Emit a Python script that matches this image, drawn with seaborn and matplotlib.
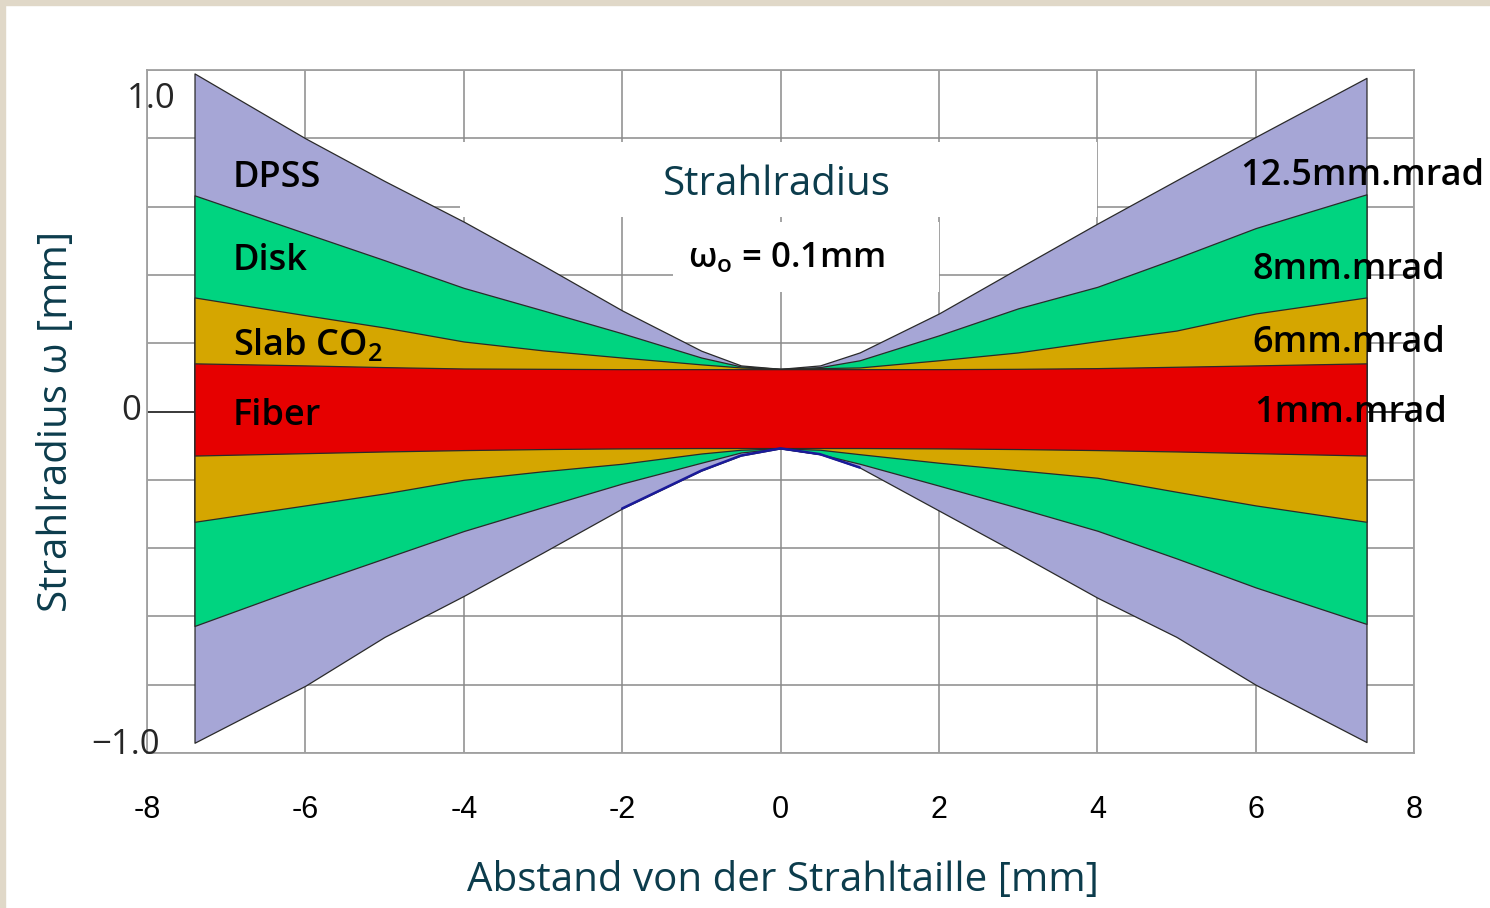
import numpy as np
import pandas as pd
import matplotlib
matplotlib.use("Agg")
import matplotlib.pyplot as plt
from matplotlib.patches import Rectangle
import seaborn as sns

# distance from the beam waist [mm]
z = [-7.4, -6, -5, -4, -3, -2, -1, -0.5, 0, 0.5, 1, 2, 3, 4, 5, 6, 7.4]

# upper and lower beam envelope [mm]
dpss_up = [0.99, 0.80, 0.675, 0.556, 0.428, 0.296, 0.178, 0.135, 0.125, 0.135, 0.173, 0.287, 0.419, 0.55, 0.677, 0.804, 0.977]
dpss_lo = [-0.97, -0.803, -0.66, -0.54, -0.413, -0.284, -0.173, -0.129, -0.108, -0.125, -0.164, -0.29, -0.416, -0.545, -0.66, -0.80, -0.968]
disk_up = [0.633, 0.522, 0.443, 0.362, 0.296, 0.229, 0.158, 0.132, 0.125, 0.13, 0.15, 0.223, 0.302, 0.365, 0.449, 0.537, 0.636]
disk_lo = [-0.628, -0.51, -0.43, -0.35, -0.28, -0.211, -0.15, -0.12, -0.108, -0.125, -0.153, -0.217, -0.282, -0.349, -0.43, -0.515, -0.622]
slab_up = [0.334, 0.282, 0.246, 0.205, 0.179, 0.158, 0.138, 0.129, 0.125, 0.127, 0.129, 0.15, 0.173, 0.206, 0.237, 0.287, 0.334]
slab_lo = [-0.323, -0.275, -0.24, -0.2, -0.175, -0.153, -0.123, -0.112, -0.108, -0.112, -0.125, -0.15, -0.172, -0.194, -0.235, -0.275, -0.323]
fiber_up = [0.141, 0.135, 0.13, 0.126, 0.125, 0.124, 0.124, 0.124, 0.124, 0.124, 0.124, 0.124, 0.125, 0.127, 0.131, 0.135, 0.141]
fiber_lo = [-0.129, -0.122, -0.117, -0.113, -0.11, -0.108, -0.107, -0.107, -0.107, -0.107, -0.107, -0.108, -0.11, -0.113, -0.117, -0.122, -0.129]

lasers = ["DPSS", "Disk", "Slab CO$_2$", "Fiber"]
bpp = ["12.5mm.mrad", "8mm.mrad", "6mm.mrad", "1mm.mrad"]
colors = ["#a6a6d6", "#00d480", "#d5a600", "#e60000"]
uppers = [dpss_up, disk_up, slab_up, fiber_up]
lowers = [dpss_lo, disk_lo, slab_lo, fiber_lo]

# label anchors (left edge, baseline) in data units
laser_y = [0.657, 0.414, 0.165, -0.040]
bpp_x = [5.80, 5.96, 5.96, 5.98]
bpp_y = [0.663, 0.388, 0.174, -0.031]

teal = "#0c3c4c"

sns.set_theme(style="white")
plt.rcParams["font.family"] = ["Open Sans", "DejaVu Sans"]
plt.rcParams["mathtext.fontset"] = "custom"
plt.rcParams["mathtext.rm"] = "Open Sans:semibold"
plt.rcParams["mathtext.it"] = "Open Sans:italic"

fig = plt.figure(figsize=(14.9, 9.08), dpi=100)
fig.patch.set_facecolor("white")
ax = fig.add_axes([147 / 1490, 155 / 908, 1267 / 1490, 683 / 908])
ax.set_facecolor("white")

# beige frame strips of the original slide
fig.patches.append(Rectangle((0, 0), 5 / 1490, 1, transform=fig.transFigure, color="#e0d8c8", zorder=0))
fig.patches.append(Rectangle((0, 1 - 5 / 908), 1, 5 / 908, transform=fig.transFigure, color="#e0d8c8", zorder=0))

ax.set_xlim(-8, 8)
ax.set_ylim(-1.0, 1.0)
ax.set_xticks(np.arange(-8, 9, 2))
ax.set_xticklabels([str(v) for v in range(-8, 9, 2)], family="Liberation Sans", fontsize=22)
ax.set_yticks(np.round(np.arange(-1.0, 1.01, 0.2), 1))
ax.set_yticklabels([])
ax.set_axisbelow(True)
ax.grid(True, color="#8a8a8a", linewidth=1.1)
ax.axhline(0, color="#333333", linewidth=1.3, zorder=0.6)
ax.tick_params(axis="both", length=0)
ax.tick_params(axis="x", pad=30, colors="black")
for s in ax.spines.values():
    s.set_color("#a0a0a0")
    s.set_linewidth(1.3)

# white boxes behind the title texts
ax.add_patch(Rectangle((-4.05, 0.57), 8.05, 0.22, facecolor="white", edgecolor="none", zorder=1))
ax.add_patch(Rectangle((-1.36, 0.35), 3.36, 0.205, facecolor="white", edgecolor="none", zorder=1))

for up, lo, c in zip(uppers, lowers, colors):
    ax.fill_between(z, lo, up, facecolor=c, edgecolor="#2a2a2a", linewidth=0.9, zorder=2)

# dark blue trace on the lower DPSS edge near the waist
sns.lineplot(x=z[5:11], y=dpss_lo[5:11], color="#1a1a9a", linewidth=1.8, ax=ax, zorder=3)

for name, y in zip(lasers, laser_y):
    ax.text(-6.92, y, name, fontsize=26, fontweight="semibold", color="black", va="baseline", ha="left", zorder=5)
for name, x, y in zip(bpp, bpp_x, bpp_y):
    ax.text(x, y, name, fontsize=26, fontweight="semibold", color="black", va="baseline", ha="left",
            zorder=5, clip_on=False)

ax.text(-0.05, 0.634, "Strahlradius", fontsize=29, color=teal, ha="center", va="baseline", zorder=5)
ax.text(-1.17, 0.423, "ω$_{\\rm o}$ = 0.1mm", fontsize=25, fontweight="semibold", color="black",
        ha="left", va="baseline", zorder=5)

# y tick labels as in the original (only three of them)
ax.text(-8.26, 0.915, "1.0", fontsize=25, ha="left", va="center", clip_on=False)
ax.text(-8.07, 0.0, "0", fontsize=25, ha="right", va="center", clip_on=False)
ax.text(-8.70, -0.977, "\u22121.0", fontsize=25, ha="left", va="center", clip_on=False)

fig.text(783 / 1490, (908 - 891) / 908, "Abstand von der Strahltaille [mm]", fontsize=29,
         color=teal, ha="center", va="baseline")
fig.text(57 / 1490, (908 - 421) / 908, "Strahlradius ω [mm]", fontsize=29, color=teal,
         ha="center", va="center", rotation=90)

fig.savefig("out.png", dpi=100)
